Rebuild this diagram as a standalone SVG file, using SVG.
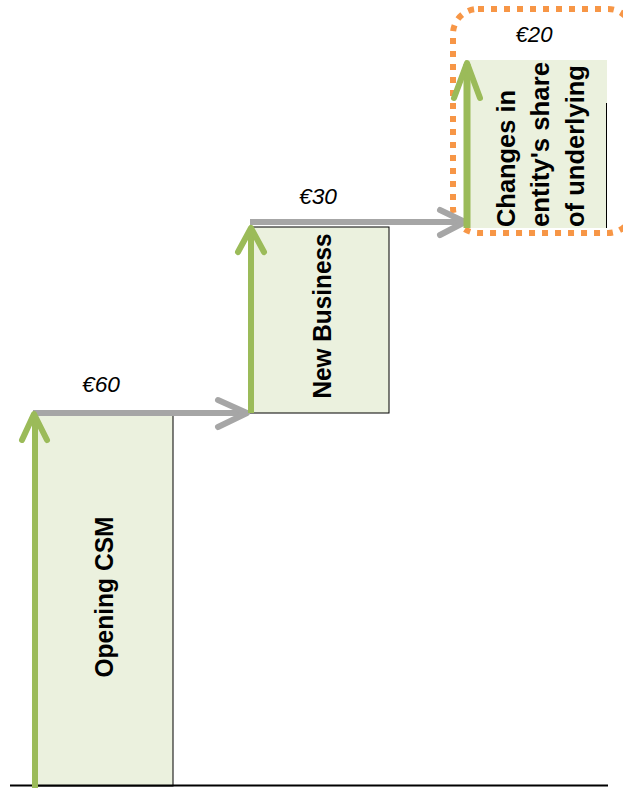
<svg xmlns="http://www.w3.org/2000/svg" width="623" height="788" viewBox="0 0 623 788">
<style>
.box{fill:#EBF1DE;stroke:#000;stroke-width:1}
.lbl{font-family:"Liberation Sans",Arial,sans-serif;font-weight:bold;font-size:26px;fill:#000}
.val{font-family:"Liberation Sans",Arial,sans-serif;font-style:italic;font-size:22px;fill:#000;text-anchor:middle}
.g{stroke:#9BBB59;stroke-width:6;fill:none;stroke-linecap:butt}
.gh{stroke:#9BBB59;stroke-width:6;fill:none;stroke-linecap:round;stroke-linejoin:round}
.r{stroke:#A6A6A6;stroke-width:6;fill:none}
.rh{stroke:#A6A6A6;stroke-width:6;fill:none;stroke-linecap:round;stroke-linejoin:round}
</style>
<rect width="623" height="788" fill="#fff"/>
<g id="opening-csm">
<rect class="box" x="35" y="413" width="138" height="373"/>
<text class="lbl" transform="translate(113,597) rotate(-90)" text-anchor="middle" textLength="161" lengthAdjust="spacingAndGlyphs">Opening CSM</text>
</g>
<g id="new-business">
<rect class="box" x="250" y="227" width="139" height="186"/>
<text class="lbl" transform="translate(331,316) rotate(-90)" text-anchor="middle" textLength="165" lengthAdjust="spacingAndGlyphs">New Business</text>
</g>
<g id="changes">
<rect x="465" y="60" width="142" height="168" fill="#EBF1DE"/>
<line x1="606.5" y1="103" x2="606.5" y2="228" stroke="#000" stroke-width="1"/>
<text class="lbl" transform="translate(515,227) rotate(-90)" textLength="137" lengthAdjust="spacingAndGlyphs">Changes  in</text>
<text class="lbl" transform="translate(549,227) rotate(-90)" textLength="165" lengthAdjust="spacingAndGlyphs">entity's share</text>
<text class="lbl" transform="translate(584,227) rotate(-90)" textLength="162" lengthAdjust="spacingAndGlyphs">of underlying</text>
</g>
<g id="highlight">
<rect x="453" y="9" width="180" height="224" rx="25" fill="none" stroke="#F79646" stroke-width="6" stroke-dasharray="6 7"/>
</g>
<g id="baseline">
<line x1="10" y1="785.5" x2="608" y2="785.5" stroke="#000" stroke-width="2"/>
</g>
<g id="connectors">
<line class="r" x1="33" y1="413" x2="246" y2="413"/>
<polyline class="rh" points="218,400 247,413 218,427"/>
<line class="r" x1="250" y1="222" x2="463" y2="222"/>
<polyline class="rh" points="440,210 465,222 440,235"/>
<line class="g" x1="35" y1="788" x2="35" y2="416"/>
<polyline class="gh" points="22,440 34,414 47,440"/>
<line class="g" x1="251" y1="413" x2="251" y2="229"/>
<polyline class="gh" points="238,252 251,228 264,252"/>
<line class="g" x1="467" y1="228" x2="467" y2="64" style="stroke-width:7"/>
<polyline class="gh" points="454,98 467,63 480,98"/>
</g>
<g id="values">
<text class="val" x="101" y="392" textLength="38" lengthAdjust="spacingAndGlyphs">€60</text>
<text class="val" x="318" y="204" textLength="38" lengthAdjust="spacingAndGlyphs">€30</text>
<text class="val" x="534" y="42" textLength="37" lengthAdjust="spacingAndGlyphs">€20</text>
</g>
</svg>
